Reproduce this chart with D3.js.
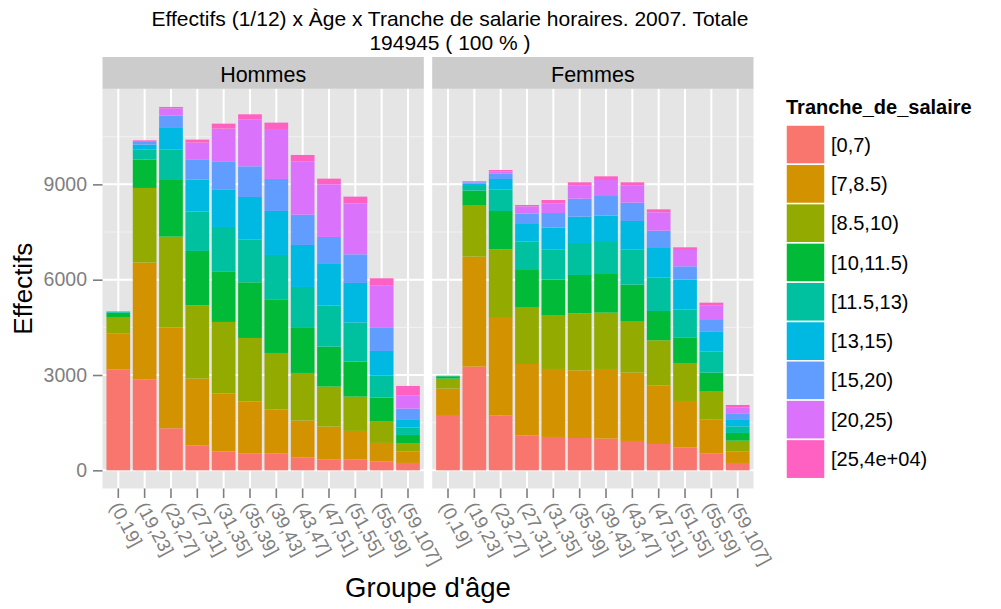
<!DOCTYPE html>
<html>
<head>
<meta charset="utf-8">
<script src="https://cdn.jsdelivr.net/npm/d3@7"></script>
<style>
  html, body { margin: 0; padding: 0; background: #fff; }
  svg { display: block; font-family: "Liberation Sans", Arial, Helvetica, sans-serif; }
</style>
</head>
<body>
<svg id="chart" width="1001" height="609"></svg>
<script>
// Stacked bars, faceted by sex (ggplot2 look).

const ages = ["(0,19]", "(19,23]", "(23,27]", "(27,31]", "(31,35]", "(35,39]",
  "(39,43]", "(43,47]", "(47,51]", "(51,55]", "(55,59]", "(59,107]"];

const tranches = ["[0,7)", "[7,8.5)", "[8.5,10)", "[10,11.5)", "[11.5,13)",
  "[13,15)", "[15,20)", "[20,25)", "[25,4e+04)"];

const colors = ["#F8766D", "#D39200", "#93AA00", "#00BA38", "#00C19F",
  "#00B9E3", "#619CFF", "#DB72FB", "#FF61C3"];

const facets = ["Hommes", "Femmes"];

// one row per age group, one value per tranche
const hommes = [
  [3180, 1120, 525, 135, 22, 15, 4, 2, 1],
  [2865, 3672, 2350, 891, 325, 147, 84, 32, 21],
  [1323, 3179, 2853, 1783, 965, 672, 388, 231, 42],
  [778, 2108, 2308, 1710, 1238, 1007, 640, 524, 95],
  [589, 1825, 2256, 1594, 1395, 1186, 881, 1028, 157],
  [537, 1626, 2003, 1752, 1353, 1332, 966, 1468, 168],
  [526, 1385, 1783, 1689, 1395, 1385, 1007, 1573, 200],
  [400, 1165, 1500, 1416, 1290, 1322, 954, 1679, 199],
  [348, 1028, 1259, 1258, 1291, 1311, 850, 1657, 178],
  [348, 892, 1080, 1101, 1228, 1248, 902, 1595, 220],
  [285, 577, 671, 756, 702, 766, 745, 1311, 231],
  [233, 356, 252, 272, 231, 242, 356, 420, 294],
];

const femmes = [
  [1742, 829, 315, 73, 12, 5, 2, 1, 1],
  [3263, 3462, 1605, 472, 147, 84, 31, 32, 10],
  [1721, 3105, 2130, 1206, 671, 336, 178, 63, 42],
  [1102, 2245, 1794, 1164, 902, 546, 325, 231, 42],
  [1050, 2140, 1678, 1133, 955, 682, 461, 304, 105],
  [1018, 2130, 1794, 1206, 1007, 829, 566, 409, 105],
  [997, 2193, 1773, 1216, 1007, 829, 619, 504, 115],
  [924, 2150, 1626, 1144, 1112, 891, 577, 546, 94],
  [830, 1835, 1427, 923, 1049, 934, 545, 577, 94],
  [714, 1469, 1196, 807, 871, 944, 420, 514, 84],
  [525, 1070, 881, 598, 661, 640, 357, 451, 94],
  [232, 356, 346, 242, 209, 200, 210, 178, 84],
];

const yTicks = [0, 3000, 6000, 9000];
const yMinor = [1500, 4500, 7500, 10500];

const titleLines = ["Effectifs (1/12) x Àge x Tranche de salarie horaires. 2007. Totale",
  "194945 ( 100 % )"];

// layout
const panelTop = 88.8, panelBottom = 488.5;
const panelW = 321.3, panelGap = 8.4, panelLeft = 102.5;
const stripH = 31.8;
const grey50 = "#7F7F7F";

const svg = d3.select("#chart");

function toRows(mat) {
  return mat.map((vals, i) => {
    const r = { age: ages[i] };
    tranches.forEach((t, j) => { r[t] = vals[j]; });
    return r;
  });
}

const data = { Hommes: toRows(hommes), Femmes: toRows(femmes) };
const stack = d3.stack().keys(tranches);

const maxTotal = d3.max([...hommes, ...femmes], (v) => d3.sum(v));
const pad = maxTotal * 0.05;

const y = d3.scaleLinear()
  .domain([-pad, maxTotal + pad])
  .range([panelBottom, panelTop]);

const color = d3.scaleOrdinal().domain(tranches).range(colors);

facets.forEach((f, fi) => {
  const x0 = panelLeft + fi * (panelW + panelGap);
  const x = d3.scaleBand()
    .domain(ages)
    .range([x0, x0 + panelW])
    .paddingInner(0.1)
    .paddingOuter(0.15);

  const g = svg.append("g");

  // panel background
  g.append("rect")
    .attr("x", x0).attr("y", panelTop)
    .attr("width", panelW).attr("height", panelBottom - panelTop)
    .attr("fill", "#E5E5E5");

  // minor grid
  g.selectAll(".minor").data(yMinor).join("line")
    .attr("x1", x0).attr("x2", x0 + panelW)
    .attr("y1", (d) => y(d)).attr("y2", (d) => y(d))
    .attr("stroke", "#F2F2F2").attr("stroke-width", 1);

  // major grid
  g.selectAll(".majorY").data(yTicks).join("line")
    .attr("x1", x0).attr("x2", x0 + panelW)
    .attr("y1", (d) => y(d)).attr("y2", (d) => y(d))
    .attr("stroke", "#fff").attr("stroke-width", 2);

  g.selectAll(".majorX").data(ages).join("line")
    .attr("x1", (d) => x(d) + x.bandwidth() / 2).attr("x2", (d) => x(d) + x.bandwidth() / 2)
    .attr("y1", panelTop).attr("y2", panelBottom)
    .attr("stroke", "#fff").attr("stroke-width", 2);

  // bars
  const series = stack(data[f]);
  g.selectAll(".layer").data(series).join("g")
    .attr("fill", (s) => color(s.key))
    .selectAll("rect").data((s) => s).join("rect")
    .attr("x", (d) => x(d.data.age))
    .attr("width", x.bandwidth())
    .attr("y", (d) => y(d[1]))
    .attr("height", (d) => y(d[0]) - y(d[1]));

  // strip
  g.append("rect")
    .attr("x", x0).attr("y", panelTop - stripH)
    .attr("width", panelW).attr("height", stripH)
    .attr("fill", "#CCCCCC");
  g.append("text")
    .attr("x", x0 + panelW / 2).attr("y", panelTop - 7.2)
    .attr("text-anchor", "middle")
    .attr("font-size", 21.5)
    .attr("fill", "#000")
    .text(f);

  // x axis
  const xAxis = g.append("g")
    .attr("transform", `translate(0,${panelBottom})`)
    .call(d3.axisBottom(x).tickSize(9.5).tickSizeOuter(0).tickFormat(""));
  xAxis.select(".domain").remove();
  xAxis.selectAll(".tick line").attr("stroke", grey50).attr("stroke-width", 1.6);

  xAxis.selectAll(".tickLabel").data(ages).join("text")
    .attr("transform", (d) => `translate(${x(d) + x.bandwidth() / 2 - 3},${15}) rotate(62)`)
    .attr("dy", "0.35em")
    .attr("text-anchor", "start")
    .attr("font-size", 18.5)
    .attr("fill", grey50)
    .text((d) => d);
});

// y axis
const yAxis = svg.append("g")
  .attr("transform", `translate(${panelLeft},0)`)
  .call(d3.axisLeft(y).tickValues(yTicks).tickFormat(d3.format("d")).tickSize(9.5).tickPadding(6));
yAxis.select(".domain").remove();
yAxis.selectAll(".tick line").attr("stroke", grey50).attr("stroke-width", 1.6);
yAxis.selectAll(".tick text")
  .attr("font-size", 19.5)
  .attr("fill", grey50)
  .attr("font-family", "'Liberation Sans', Arial, sans-serif");

// axis titles
svg.append("text")
  .attr("transform", `translate(32,${(panelTop + panelBottom) / 2}) rotate(-90)`)
  .attr("text-anchor", "middle")
  .attr("font-size", 26)
  .text("Effectifs");

svg.append("text")
  .attr("x", panelLeft + panelW + panelGap / 2).attr("y", 597)
  .attr("text-anchor", "middle")
  .attr("font-size", 27.5)
  .text("Groupe d'âge");

// title
svg.selectAll(".title").data(titleLines).join("text")
  .attr("x", 450).attr("y", (d, i) => 26 + i * 24)
  .attr("text-anchor", "middle")
  .attr("font-size", 21)
  .text((d) => d);

// legend
const lg = svg.append("g").attr("transform", "translate(786,0)");
lg.append("text")
  .attr("x", 0).attr("y", 114)
  .attr("font-size", 20)
  .attr("font-weight", "bold")
  .text("Tranche_de_salaire");

const keyH = 39.3, keyW = 39, keyTop = 125;
const items = lg.selectAll(".item").data(tranches).join("g")
  .attr("transform", (d, i) => `translate(0,${keyTop + i * keyH})`);
items.append("rect")
  .attr("width", keyW).attr("height", keyH)
  .attr("fill", (d) => color(d))
  .attr("stroke", "#fff").attr("stroke-width", 1.5);
items.append("text")
  .attr("x", keyW + 6).attr("y", keyH / 2)
  .attr("dy", "0.35em")
  .attr("font-size", 20)
  .text((d) => d);
</script>
</body>
</html>
